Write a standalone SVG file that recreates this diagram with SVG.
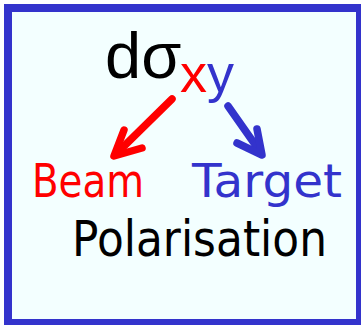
<svg xmlns="http://www.w3.org/2000/svg" width="364" height="325" viewBox="0 0 364 325">
<style>
text{font-family:"DejaVu Sans","Liberation Sans",sans-serif}
.ls{font-family:"Liberation Sans","DejaVu Sans",sans-serif}
.red{fill:#ff0000}
.blue{fill:#3333cc}
.blk{fill:#000000}
.ar{fill:none;stroke-width:7.5;stroke-linecap:round;stroke-linejoin:round}
</style>
<rect x="0" y="0" width="364" height="325" fill="#ffffff"/>
<g id="frame">
<rect x="4" y="4" width="357" height="321" fill="#3333cc"/>
<rect x="12" y="12" width="344" height="307" fill="#f3ffff"/>
</g>
<g id="title">
<text x="105" y="78" font-size="65" class="blk ls"><tspan>dσ</tspan><tspan x="180" y="92" font-size="54" class="red">x</tspan><tspan x="207" y="92" font-size="54" class="blue">y</tspan></text>
</g>
<g id="connectors">
<g stroke="#ff0000" class="ar">
<line x1="172" y1="99" x2="115" y2="155"/>
<polyline points="124,130 114,156 142,148"/>
</g>
<g stroke="#3333cc" class="ar">
<line x1="228" y1="106" x2="261" y2="153"/>
<polyline points="257,129 262,155 237,143"/>
</g>
</g>
<g id="beam">
<text x="32" y="197" font-size="46" class="red" textLength="112" lengthAdjust="spacingAndGlyphs">Beam</text>
</g>
<g id="target">
<text x="192" y="197" font-size="46" class="blue" textLength="150" lengthAdjust="spacingAndGlyphs">Target</text>
</g>
<g id="polarisation">
<text x="72" y="256" font-size="49" class="blk" textLength="255" lengthAdjust="spacingAndGlyphs">Polarisation</text>
</g>
</svg>
